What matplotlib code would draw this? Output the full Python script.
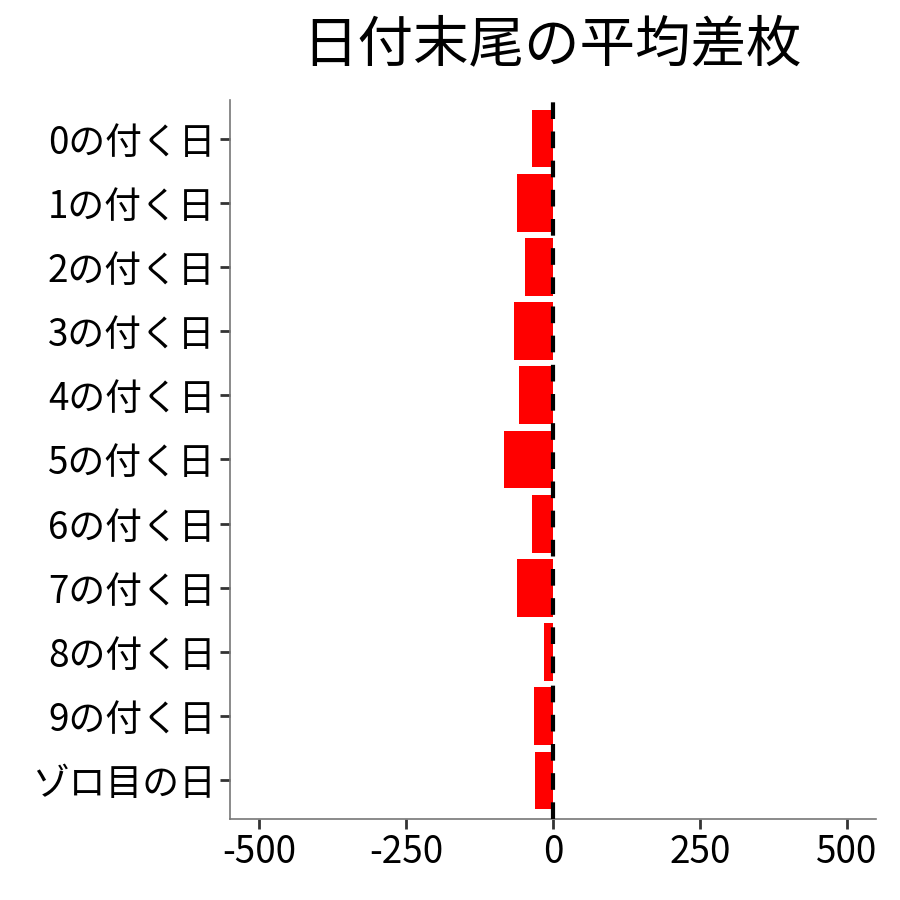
import matplotlib
matplotlib.use("Agg")
import matplotlib.pyplot as plt

plt.rcParams['font.family'] = ['Noto Sans CJK JP', 'DejaVu Sans']

labels = ["0の付く日", "1の付く日", "2の付く日", "3の付く日", "4の付く日",
          "5の付く日", "6の付く日", "7の付く日", "8の付く日", "9の付く日", "ゾロ目の日"]
values = [-36.6, -62, -48.5, -67, -58.7, -84, -36.6, -62, -14.5, -33, -31.5]
xticks = [-500, -250, 0, 250, 500]

fig = plt.figure(figsize=(9, 9), dpi=100)
ax = fig.add_axes([230/900, 1-819/900, (876-230)/900, (819-100)/900])

ypos = list(range(len(labels)))
ax.barh(ypos, values, height=0.9, color='#ff0000', zorder=2)
ax.axvline(0, color='black', linestyle=(0, (4, 3)), linewidth=3, zorder=3)

ax.set_xlim(-550, 550)
ax.set_ylim(len(labels) - 0.4, -0.6)
ax.set_yticks(ypos)
ax.set_yticklabels(labels)
ax.set_xticks(xticks)
ax.set_xticklabels([str(v) for v in xticks])

ax.tick_params(axis='both', labelsize=26.5, color='#333333', width=2, length=7, labelcolor='black')
ax.tick_params(axis='x', pad=3)
for s in ['top', 'right']:
    ax.spines[s].set_visible(False)
for s in ['left', 'bottom']:
    ax.spines[s].set_color('#777777')
    ax.spines[s].set_linewidth(1.2)

fig.text(552/900, 1-45/900, "日付末尾の平均差枚", ha='center', va='center', fontsize=40)

fig.savefig("out.png", dpi=100)
